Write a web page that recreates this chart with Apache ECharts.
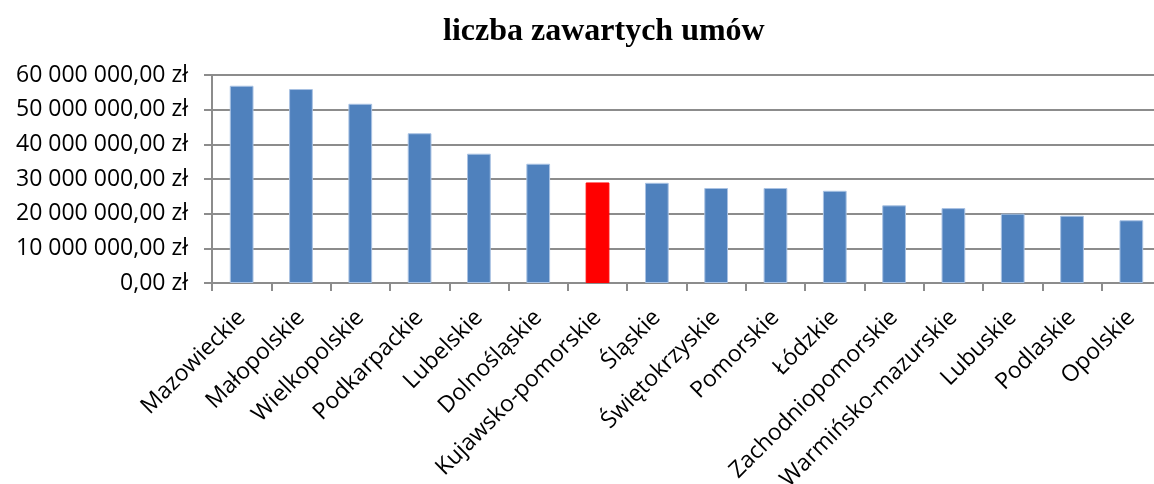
<!DOCTYPE html>
<html>
<head>
<meta charset="utf-8">
<script src="https://cdn.jsdelivr.net/npm/echarts@6/dist/echarts.min.js"></script>
<style>
  html, body { margin: 0; padding: 0; background: #fff; }
  #chart { width: 1154px; height: 484px; }
</style>
</head>
<body>
<div id="chart"></div>
<script>
// dane
const regions = ['Mazowieckie', 'Małopolskie', 'Wielkopolskie', 'Podkarpackie', 'Lubelskie',
  'Dolnośląskie', 'Kujawsko-pomorskie', 'Śląskie', 'Świętokrzyskie', 'Pomorskie', 'Łódzkie',
  'Zachodniopomorskie', 'Warmińsko-mazurskie', 'Lubuskie', 'Podlaskie', 'Opolskie'];
const amounts = [56900000, 55950000, 51700000, 43200000, 37300000, 34400000, 29000000, 28900000,
  27400000, 27400000, 26600000, 22400000, 21600000, 20000000, 19400000, 18100000];
const highlighted = 'Kujawsko-pomorskie';
const yTicks = [0, 10000000, 20000000, 30000000, 40000000, 50000000, 60000000];

function fmtZl(v) {
  const s = String(Math.round(v)).replace(/\B(?=(\d{3})+(?!\d))/g, ' ');
  return s + ',00 zł';
}

const chart = echarts.init(document.getElementById('chart'));

const option = {
  backgroundColor: '#fff',
  animation: false,
  title: {
    text: 'liczba zawartych umów',
    left: 438,
    top: 11,
    textStyle: {
      fontFamily: 'Liberation Serif',
      fontWeight: 'bold',
      fontSize: 32,
      color: '#000'
    }
  },
  grid: {
    left: 212,
    right: -7,
    top: 75,
    bottom: 201,
    containLabel: false,
    outerBoundsMode: 'none'
  },
  xAxis: {
    type: 'category',
    data: regions,
    axisLine: { lineStyle: { color: '#8c8c8c', width: 2 } },
    axisTick: { show: true, length: 8, lineStyle: { color: '#8c8c8c', width: 2 } },
    axisLabel: {
      rotate: 45,
      interval: 0,
      margin: 31,
      fontFamily: 'Open Sans',
      fontSize: 23,
      color: '#000'
    }
  },
  yAxis: {
    type: 'value',
    min: yTicks[0],
    max: yTicks[yTicks.length - 1],
    interval: 10000000,
    axisLine: { show: true, lineStyle: { color: '#8c8c8c', width: 2 } },
    axisTick: { show: true, length: 8, lineStyle: { color: '#8c8c8c', width: 2 } },
    splitLine: { lineStyle: { color: '#8c8c8c', width: 2 } },
    axisLabel: {
      formatter: fmtZl,
      margin: 24,
      fontFamily: 'Open Sans',
      fontSize: 23,
      color: '#000'
    }
  },
  series: [{
    type: 'bar',
    barWidth: '40%',
    data: regions.map((r, i) => ({
      value: amounts[i],
      itemStyle: r === highlighted
        ? { color: '#ff0000', borderColor: '#ff0000', borderWidth: 1 }
        : { color: '#4f81bd', borderColor: '#a9c2e3', borderWidth: 1 }
    }))
  }]
};

chart.setOption(option);
</script>
</body>
</html>
